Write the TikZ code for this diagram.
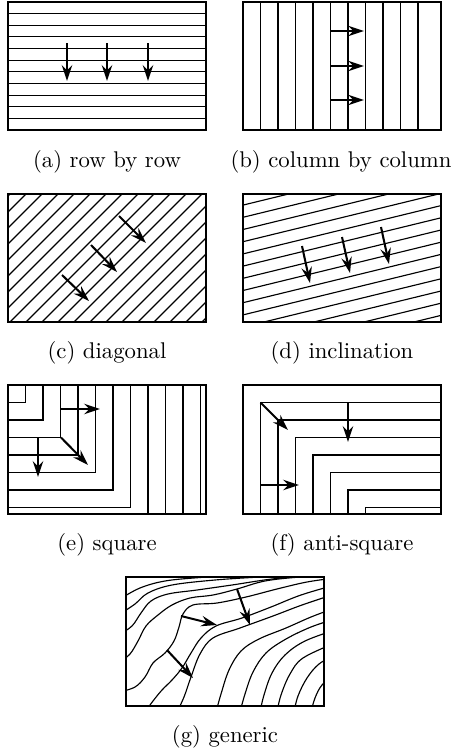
\documentclass[tikz,border=0pt]{standalone}
\usetikzlibrary{arrows.meta}
\definecolor{Ink}{HTML}{000000}

\begin{document}
\begin{tikzpicture}[
  x=0.44pt, y=-0.44pt,
  panel/.style={draw=Ink, line width=1.1pt},
  stroke/.style={draw=Ink, line width=0.5pt},
  arrow/.style={
    -{Stealth[length=7pt,width=4.6pt,inset=2.4pt]},
    line width=0.9pt,
    draw=Ink
  },
  caption/.style={text=Ink, inner sep=0pt}
]
\useasboundingbox (0,0) rectangle (454,756);

% (a) row by row
\foreach \k in {1,...,10}
  \draw[stroke] (8,{2+11.636*\k}) -- (206,{2+11.636*\k});
\draw[panel] (8,2) rectangle (206,130);
\foreach \x in {67,107,148}
  \draw[arrow] (\x,43) -- (\x,81);
\node[caption] (capa) at (107,162) {(a) row by row};

% (b) column by column
\foreach \k in {1,...,10}
  \draw[stroke] ({243+17.5*\k},2) -- ({243+17.5*\k},130);
\draw[panel] (243,2) rectangle (441,130);
\foreach \y in {31,66,100}
  \draw[arrow] (331,\y) -- (364,\y);
\node[caption] (capb) at (341,162) {(b) column by column};

% (c) diagonal
\begin{scope}
  \clip (8,194) rectangle (206,322);
  \foreach \k in {-8,...,12}
    \draw[stroke] ({332+16*\k-340},340) -- ({332+16*\k-180},180);
\end{scope}
\draw[panel] (8,194) rectangle (206,322);
\draw[arrow] (119,216) -- (146,243);
\draw[arrow] (91,245) -- (117,272);
\draw[arrow] (62,275) -- (89,301);
\node[caption] (capc) at (107,353) {(c) diagonal};

% (d) inclination
\begin{scope}
  \clip (243,194) rectangle (441,322);
  \foreach \k in {-3,...,10}
    \draw[stroke] (243,{241.7+12.2*\k}) -- (441,{193.4+12.2*\k});
\end{scope}
\draw[panel] (243,194) rectangle (441,322);
\draw[arrow] (302,246) -- (310,283);
\draw[arrow] (342,237) -- (350,273);
\draw[arrow] (381,227) -- (389,264);
\node[caption] (capd) at (342,353) {(d) inclination};

% (e) square
\begin{scope}
  \clip (8,385) rectangle (206,514);
  \foreach \k in {1,...,11}
    \draw[stroke] (8,{385+17.5*\k}) -- ({8+17.5*\k},{385+17.5*\k}) -- ({8+17.5*\k},385);
\end{scope}
\draw[panel] (8,385) rectangle (206,514);
\draw[arrow] (61,409) -- (100,409);
\draw[arrow] (61,437.5) -- (88,465);
\draw[arrow] (38,437.5) -- (38,477);
\node[caption] (cape) at (107,545) {(e) square};

% (f) anti-square
\foreach \k in {1,...,7}
  \draw[stroke] ({243+17.5*\k},514) -- ({243+17.5*\k},{385+17.5*\k}) -- (441,{385+17.5*\k});
\draw[panel] (243,385) rectangle (441,514);
\draw[arrow] (260.5,402.5) -- (288,430);
\draw[arrow] (348,402.5) -- (348,442);
\draw[arrow] (260.5,485) -- (299,485);
\node[caption] (capf) at (342,545) {(f) anti-square};

% (g) generic
\begin{scope}
  \clip (126,577) rectangle (324,706);
  \draw[stroke] plot[smooth, tension=0.6] coordinates {(120,599) (140,588) (165,581) (200,577.5) (240,575)};
  \draw[stroke] plot[smooth, tension=0.6] coordinates {(120,614) (135,604) (148,593) (172,585) (215,580) (260,577) (300,575)};
  \draw[stroke] plot[smooth, tension=0.6] coordinates {(120,634) (132,626) (141,613) (151,601) (168,594) (197,590) (232,585) (272,579) (315,575)};
  \draw[stroke] plot[smooth, tension=0.6] coordinates {(120,662) (130,654) (138,641) (146,626) (158,615) (172,605) (190,598) (213,595) (237,589) (265,581) (300,577) (335,575)};
  \draw[stroke] plot[smooth, tension=0.6] coordinates {(120,692) (135,687) (145,677) (153,663) (165,653) (174,641) (179,627) (183,614) (193,605) (217,603) (246,597) (277,589) (307,582) (335,578)};
  \draw[stroke] plot[smooth, tension=0.6] coordinates {(145,712) (153,701) (162,690) (172,680) (182,668) (191,653) (201,638) (216,626) (242,618) (271,607) (301,595) (335,585)};
  \draw[stroke] plot[smooth, tension=0.6] coordinates {(177,712) (184,697) (191,677) (200,654) (213,638) (240,628) (273,616) (302,605) (335,594)};
  \draw[stroke] plot[smooth, tension=0.6] coordinates {(216,712) (221,694) (229,670) (241,651) (259,639) (286,628) (311,617) (335,608)};
  \draw[stroke] plot[smooth, tension=0.6] coordinates {(240,712) (245,694) (253,672) (266,653) (286,639) (311,627) (335,619)};
  \draw[stroke] plot[smooth, tension=0.6] coordinates {(260,712) (264,695) (272,673) (285,655) (305,641) (335,630)};
  \draw[stroke] plot[smooth, tension=0.6] coordinates {(277,712) (281,695) (290,674) (303,658) (335,643)};
  \draw[stroke] plot[smooth, tension=0.6] coordinates {(294,712) (298,696) (307,678) (319,664) (335,655)};
  \draw[stroke] plot[smooth, tension=0.6] coordinates {(311,712) (315,698) (322,685) (335,674)};
\end{scope}
\draw[panel] (126,577) rectangle (324,706);
\draw[arrow] (181,616) -- (217,625);
\draw[arrow] (237,589) -- (250,625);
\draw[arrow] (167,650) -- (193,678);
\node[caption] (capg) at (225,737) {(g) generic};

\end{tikzpicture}
\end{document}
